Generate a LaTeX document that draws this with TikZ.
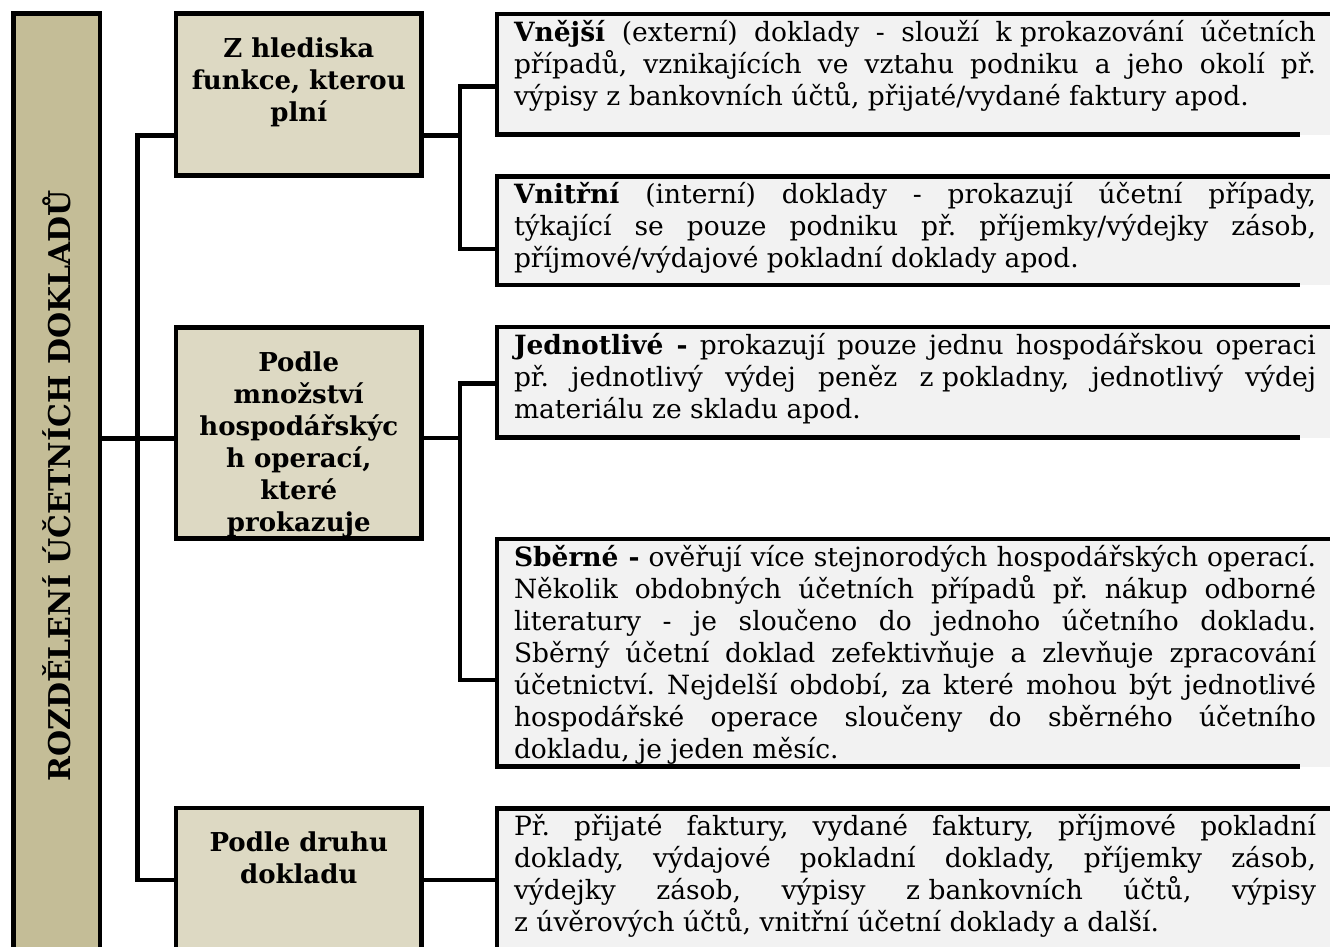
\documentclass[tikz,border=0pt]{standalone}
\usepackage{fontspec}
\setmainfont{DejaVu Serif}
\usetikzlibrary{positioning}
\definecolor{rootfill}{HTML}{C4BD97}
\definecolor{catfill}{HTML}{DDD9C3}
\definecolor{leaffill}{HTML}{F2F2F2}
\tikzset{
  rootbox/.style={draw, line width=4.5pt, fill=rootfill, rotate=90, outer sep=0pt,
    minimum width=945.4pt, minimum height=86.7pt, inner sep=0pt,
    font=\fontsize{30}{36}\selectfont\bfseries},
  catbox/.style={draw, line width=4.5pt, fill=catfill, anchor=north west,
    outer sep=0pt, inner xsep=10pt, inner ysep=0pt},
  leafbox/.style={fill=leaffill, anchor=north west, outer sep=0pt,
    inner xsep=17pt, inner ysep=0pt},
  edge/.style={line width=4.5pt},
}
% text of the boxes
\newcommand{\cattext}[2]{\parbox[t][#1][t]{225.5pt}{\fontsize{26}{32}\selectfont
  \bfseries\centering\rule{0pt}{43.5pt}#2}}
\newcommand{\leaftext}[2]{\parbox[t][#1][t]{802pt}{\fontsize{26.5}{32}\selectfont
  \frenchspacing\lineskiplimit=-20pt\vskip4.6pt #2}}
\newcommand{\jline}[1]{\hbox to\linewidth{\strut #1}}
\newcommand{\eline}[1]{\hbox{\strut #1}}
\newcommand{\nbsp}{\kern0.32em}

\begin{document}
\begin{tikzpicture}[x=1pt,y=-1pt]
\useasboundingbox (0,0) rectangle (1330,946);
\clip (0,0) rectangle (1330,946);

% root
\node[rootbox] (root) at (56.7,486) {ROZDĚLENÍ ÚČETNÍCH DOKLADŮ};

% categories
\node[catbox] (catA) at (176,13.5) {\cattext{162pt}{Z hlediska\\funkce, kterou\\plní}};
\node[catbox] (catB) at (176,327.5) {\cattext{211pt}{Podle\\množství\\hospodářskýc\\h operací,\\které\\prokazuje}};
\node[catbox] (catC) at (176,808) {\cattext{150pt}{Podle druhu\\dokladu}};

% leaves
\node[leafbox] (leafA1) at (497,14) {\leaftext{120.5pt}{%
  \jline{\textbf{Vnější} (externí) doklady - slouží k\nbsp prokazování účetních}
  \jline{případů, vznikajících ve vztahu podniku a jeho okolí př.}
  \eline{výpisy z\nbsp bankovních účtů, přijaté/vydané faktury apod.}}};
\node[leafbox] (leafA2) at (497,176.5) {\leaftext{108.5pt}{%
  \jline{\textbf{Vnitřní} (interní) doklady - prokazují účetní případy,}
  \jline{týkající se pouze podniku př. příjemky/výdejky zásob,}
  \eline{příjmové/výdajové pokladní doklady apod.}}};
\node[leafbox] (leafB1) at (497,327) {\leaftext{110.5pt}{%
  \jline{\textbf{Jednotlivé -} prokazují pouze jednu hospodářskou operaci}
  \jline{př. jednotlivý výdej peněz z\nbsp pokladny, jednotlivý výdej}
  \eline{materiálu ze skladu apod.}}};
\node[leafbox] (leafB2) at (497,539) {\leaftext{227.5pt}{%
  \jline{\textbf{Sběrné -} ověřují více stejnorodých hospodářských operací.}
  \jline{Několik obdobných účetních případů př. nákup odborné}
  \jline{literatury - je sloučeno do jednoho účetního dokladu.}
  \jline{Sběrný účetní doklad zefektivňuje a zlevňuje zpracování}
  \jline{účetnictví. Nejdelší období, za které mohou být jednotlivé}
  \jline{hospodářské operace sloučeny do sběrného účetního}
  \eline{dokladu, je jeden měsíc.}}};
\node[leafbox] (leafC) at (497,808.3) {\leaftext{150pt}{%
  \jline{Př. přijaté faktury, vydané faktury, příjmové pokladní}
  \jline{doklady, výdajové pokladní doklady, příjemky zásob,}
  \jline{výdejky zásob, výpisy z\nbsp bankovních účtů, výpisy}
  \eline{z\nbsp úvěrových účtů, vnitřní účetní doklady a další.}}};

% leaf borders
\foreach \lf in {leafA1,leafA2,leafB1,leafB2,leafC}
  \draw[edge] (\lf.north east) -- (\lf.north west) -- (\lf.south west) -- ([xshift=-33pt]\lf.south east);

% trunk
\coordinate (jA) at (137.5,135.5);
\coordinate (jB) at (137.5,438.5);
\coordinate (jC) at (137.5,880);
\draw[edge] (catA.west |- jA) -- (jA) -- (jC) -- (catC.west |- jC);
\draw[edge] (root.south |- jB) -- (catB.west |- jB);

% brackets
\coordinate (kA) at (460,135.5);
\coordinate (kA1) at (460,86.5);
\coordinate (kA2) at (460,249);
\draw[edge] (catA.east |- kA) -- (kA);
\draw[edge] (leafA1.west |- kA1) -- (kA1) -- (kA2) -- (leafA2.west |- kA2);

\coordinate (kB) at (460,438);
\coordinate (kB1) at (460,383.5);
\coordinate (kB2) at (460,680);
\draw[edge] (catB.east |- kB) -- (kB);
\draw[edge] (leafB1.west |- kB1) -- (kB1) -- (kB2) -- (leafB2.west |- kB2);

\coordinate (kC) at (460,880);
\draw[edge] (catC.east |- kC) -- (leafC.west |- kC);
\end{tikzpicture}
\end{document}
